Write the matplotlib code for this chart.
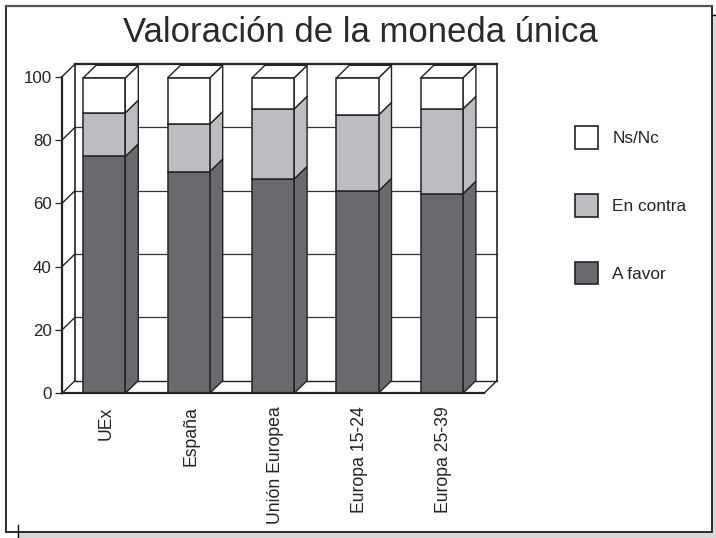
import matplotlib
matplotlib.use("Agg")
import matplotlib.pyplot as plt
from matplotlib.patches import Patch, Polygon, Rectangle
from matplotlib.transforms import ScaledTranslation

W, H = 716, 538
categories = ["UEx", "España", "Unión Europea", "Europa 15-24", "Europa 25-39"]
a_favor = [74.8, 70.0, 67.7, 63.9, 63.0]
en_contra = [13.8, 15.0, 22.1, 24.0, 26.8]
ns_nc = [11.0, 14.6, 9.8, 11.7, 9.8]
series = [("A favor", a_favor, "#696a6d"),
          ("En contra", en_contra, "#bcbdc0"),
          ("Ns/Nc", ns_nc, "#ffffff")]
yticks = [0, 20, 40, 60, 80, 100]

plt.rcParams["font.family"] = ["Liberation Sans", "DejaVu Sans"]
INK = "#232323"
fig = plt.figure(figsize=(W / 100, H / 100), dpi=100, facecolor="white")

# page decoration in pixel coordinates
bg = fig.add_axes([0, 0, 1, 1])
bg.set_xlim(0, W); bg.set_ylim(H, 0); bg.axis("off")
bg.add_patch(Rectangle((17, 14), W - 17, H - 14, fc="#d8d8d8", ec="none"))
bg.plot([712, W], [14.5, 14.5], color="#111111", lw=1.0)
bg.plot([17.5, 17.5], [525, H], color="#111111", lw=1.0)
bg.add_patch(Rectangle((6, 5.5), 706, 526, fc="white", ec="#1c1c1c", lw=1.3))
bg.plot([6, 712], [5.5, 5.5], color="#555555", lw=1.6)

# chart axes: the front plane of the 3D box
L, R, T, B = 62, 484, 76.7, 393.3
ax = fig.add_axes([L / W, 1 - B / H, (R - L) / W, (B - T) / H])
ax.set_xlim(-0.5, 4.5); ax.set_ylim(0, 100)
ax.patch.set_alpha(0)
for s in ax.spines.values():
    s.set_visible(False)
DX = 13 / ((R - L) / 5)
DY = 4.0
kw = dict(clip_on=False, solid_capstyle="projecting")
xl, xr = ax.get_xlim()
for t in yticks:
    ax.plot([xl, xl + DX], [t, t + DY], color=INK, lw=1.0, zorder=1, clip_on=False)
    if 0 < t < 100:
        ax.plot([xl + DX, xr + DX], [t + DY] * 2, color="#333333", lw=0.9, zorder=1, clip_on=False)
ax.plot([xl + DX, xr + DX], [100 + DY] * 2, color=INK, lw=1.6, zorder=1, **kw)
ax.plot([xl + DX, xr + DX], [DY, DY], color=INK, lw=1.0, zorder=1, **kw)
ax.plot([xl + DX, xl + DX], [DY, 100 + DY], color=INK, lw=1.2, zorder=1, **kw)
ax.plot([xr + DX, xr + DX], [DY, 100 + DY], color=INK, lw=1.2, zorder=1, **kw)
ax.plot([xr, xr + DX], [0, DY], color=INK, lw=1.0, zorder=1, clip_on=False)
ax.plot([xl, xr], [0, 0], color=INK, lw=1.6, zorder=6, **kw)
ax.plot([xl, xl], [0, 100], color=INK, lw=1.6, zorder=6, **kw)

# stacked bars with side and top faces
width = 0.5
bottom = [0.0] * len(categories)
for name, vals, col in series:
    ax.bar(range(len(vals)), vals, width, bottom=bottom, color=col,
           edgecolor=INK, linewidth=1.1, zorder=3, clip_on=False)
    for i, v in enumerate(vals):
        x1 = i + width / 2
        y0, y1 = bottom[i], bottom[i] + v
        ax.add_patch(Polygon([(x1, y0), (x1 + DX, y0 + DY), (x1 + DX, y1 + DY), (x1, y1)],
                             fc=col, ec=INK, lw=1.0, zorder=2.5, clip_on=False))
    bottom = [b + v for b, v in zip(bottom, vals)]
for i, top in enumerate(bottom):
    x0, x1 = i - width / 2, i + width / 2
    ax.add_patch(Polygon([(x0, top), (x0 + DX, top + DY), (x1 + DX, top + DY), (x1, top)],
                         fc="white", ec=INK, lw=1.0, zorder=2.5, clip_on=False))

ax.set_yticks(yticks)
ax.set_xticks(range(len(categories)))
ax.set_xticklabels(categories, rotation=90, fontsize=12.7, color=INK)
ax.tick_params(axis="x", length=0, pad=9.3)
ax.tick_params(axis="y", length=5, width=0.9, color=INK, labelsize=12.2, labelcolor=INK, pad=2.5)
shift = ScaledTranslation(2 / 100, 0, fig.dpi_scale_trans)
for lab in ax.get_xticklabels():
    lab.set_transform(lab.get_transform() + shift)

fig.text(360 / W, 1 - 41.7 / H, "Valoración de la moneda única", ha="center", va="baseline",
         fontsize=25, color="#2a2a2a")

handles = [Patch(fc=c, ec=INK, lw=1.2, label=n) for n, _, c in reversed(series)]
fig.legend(handles=handles, loc="upper left", bbox_to_anchor=(575 / W, 1 - 126.5 / H),
           frameon=False, fontsize=12.4, borderpad=0, borderaxespad=0,
           handlelength=1.33, handleheight=1.64, handletextpad=0.83, labelspacing=2.62,
           labelcolor=INK)

fig.savefig("out.png", dpi=100)
